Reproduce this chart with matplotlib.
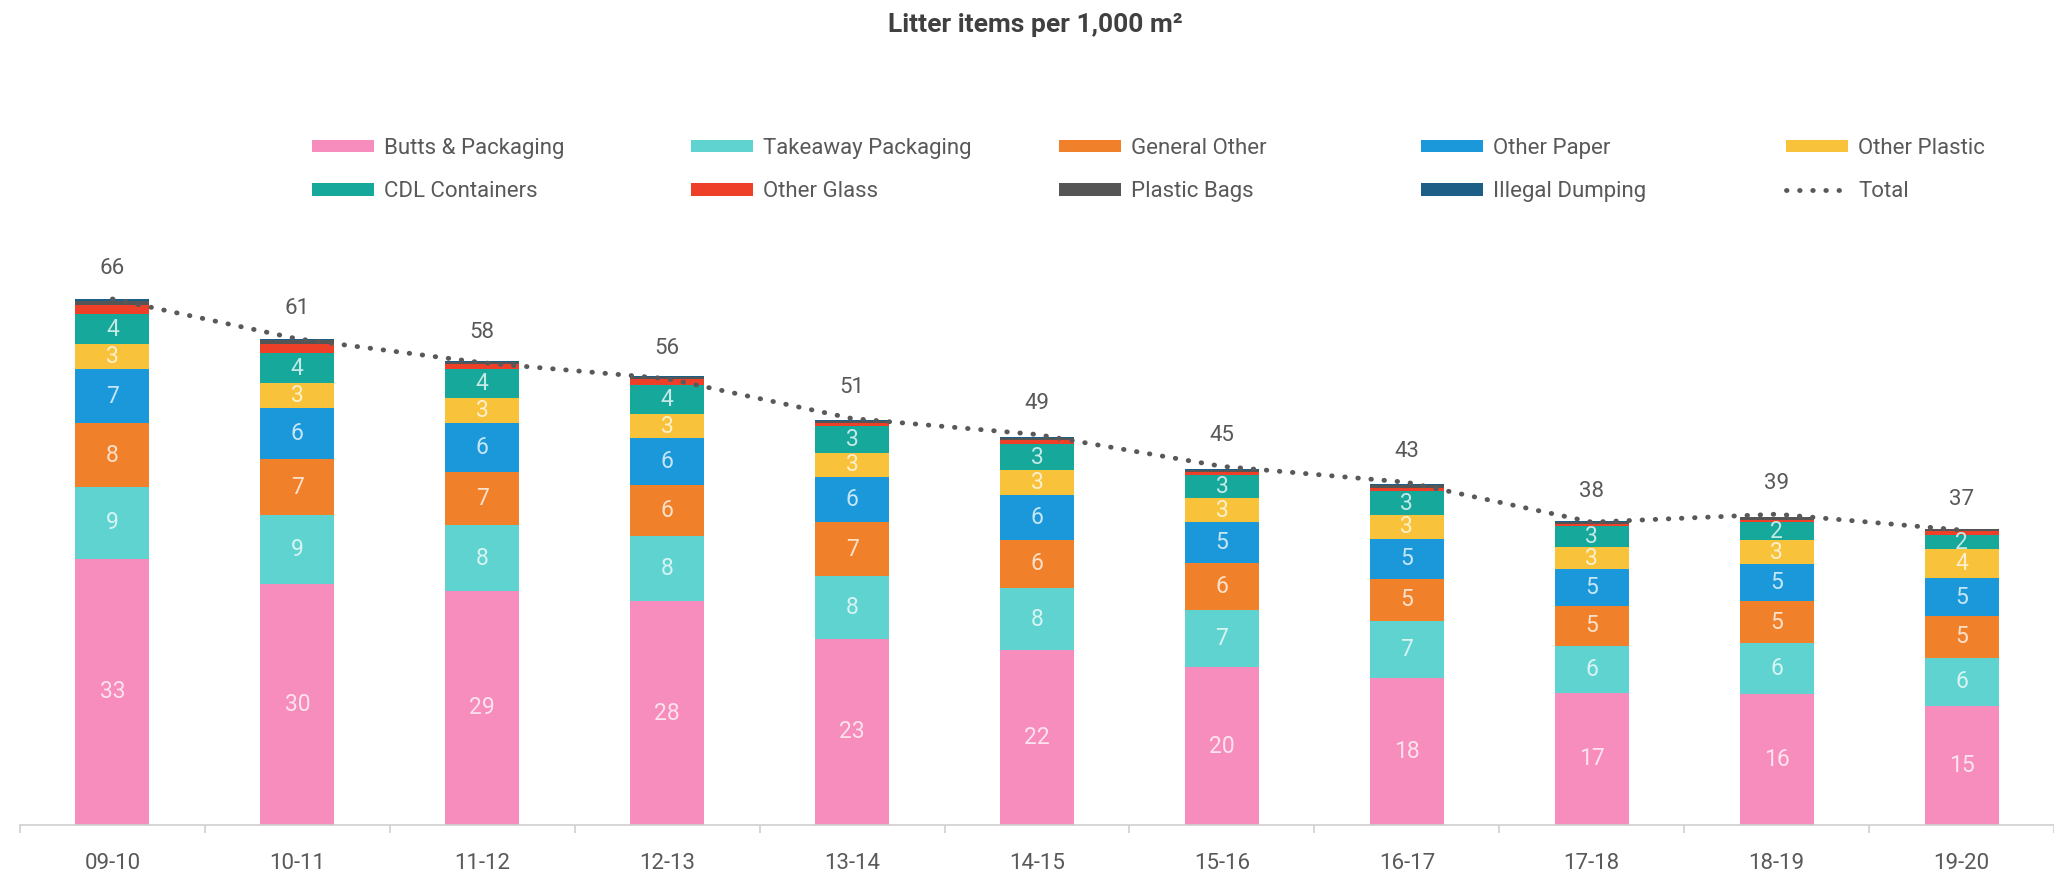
import numpy as np
import matplotlib
matplotlib.use('Agg')
import matplotlib.pyplot as plt
from matplotlib.patches import Patch
from matplotlib.lines import Line2D
from matplotlib.colors import to_rgb

plt.rcParams['font.family'] = ['Roboto', 'DejaVu Sans']

years = ['09-10', '10-11', '11-12', '12-13', '13-14', '14-15',
         '15-16', '16-17', '17-18', '18-19', '19-20']

butts    = [33.4, 30.2, 29.4, 28.1, 23.4, 21.9, 19.8, 18.4, 16.6, 16.4, 14.9]
takeaway = [9.0, 8.7, 8.2, 8.2, 7.8, 7.8, 7.2, 7.2, 5.9, 6.4, 6.1]
general  = [8.0, 7.0, 6.7, 6.3, 6.8, 6.1, 5.9, 5.3, 5.0, 5.3, 5.2]
paper    = [6.8, 6.4, 6.1, 5.9, 5.7, 5.6, 5.1, 5.0, 4.6, 4.6, 4.8]
plastic  = [3.1, 3.1, 3.2, 3.1, 3.0, 3.1, 3.0, 3.0, 2.8, 3.0, 3.6]
cdl      = [3.8, 3.8, 3.6, 3.6, 3.3, 3.3, 2.9, 3.0, 2.6, 2.3, 1.8]
glass    = [1.2, 1.2, 0.6, 0.7, 0.4, 0.5, 0.4, 0.4, 0.3, 0.3, 0.5]
bags     = [0.5, 0.5, 0.3, 0.3, 0.3, 0.3, 0.3, 0.4, 0.2, 0.3, 0.2]
dumping  = [0.2, 0.1, 0.1, 0.1, 0.1, 0.1, 0.1, 0.1, 0.1, 0.1, 0.1]
totals   = [66, 61, 58, 56, 51, 49, 45, 43, 38, 39, 37]

series = [
    ('Butts & Packaging', butts, '#F78DBC', True),
    ('Takeaway Packaging', takeaway, '#5FD3D0', True),
    ('General Other', general, '#F0812A', True),
    ('Other Paper', paper, '#1A98DA', True),
    ('Other Plastic', plastic, '#F8C33A', True),
    ('CDL Containers', cdl, '#15A89B', True),
    ('Other Glass', glass, '#EE3F28', False),
    ('Plastic Bags', bags, '#555555', False),
    ('Illegal Dumping', dumping, '#1D5E86', False),
]

W, H = 2054, 877
fig = plt.figure(figsize=(W / 100, H / 100), dpi=100)
ax = fig.add_axes([20 / W, 1 - 825 / H, (W - 20) / W, 625 / H])

x = np.arange(len(years))
bottom = np.zeros(len(years))
handles = {}
for name, vals, col, labelled in series:
    vals = np.array(vals)
    ax.bar(x, vals, width=0.4, bottom=bottom, color=col, label=name)
    handles[name] = Patch(facecolor=col)
    if labelled:
        light = tuple(0.25 * c + 0.75 for c in to_rgb(col))
        for xi, b, v in zip(x, bottom, vals):
            ax.text(xi, b + v / 2, f'{v:.0f}', ha='center', va='center',
                    fontsize=16.5, color=light)
    bottom += vals

ax.plot(x, totals, color='#595959', lw=3.5, linestyle=(0, (0.1, 2.6)),
        dash_capstyle='round', zorder=5)
for xi, t in zip(x, totals):
    ax.annotate(str(t), (xi, t), xytext=(0, 22), textcoords='offset points',
                ha='center', va='center', fontsize=16, color='#595959')
handles['Total'] = Line2D([], [], color='#595959', lw=3.5,
                          linestyle=(0, (0.1, 2.6)), dash_capstyle='round')

ax.set_xlim(-0.5, 10.48)
ax.set_ylim(0, 625 / 7.97)
for s in ['top', 'right', 'left']:
    ax.spines[s].set_visible(False)
ax.spines['bottom'].set_color('#CFCFCF')
ax.spines['bottom'].set_linewidth(1.2)
ax.set_yticks([])
ax.set_xticks(x)
ax.set_xticklabels(years, fontsize=16, color='#595959')
ax.set_xticks(np.arange(-0.5, 10.6, 1), minor=True)
ax.tick_params(axis='x', which='major', length=0, pad=20)
ax.tick_params(axis='x', which='minor', length=6, color='#CFCFCF', width=1.2)

# legend: five equally spaced columns, two rows
cols = [['Butts & Packaging', 'CDL Containers'],
        ['Takeaway Packaging', 'Other Glass'],
        ['General Other', 'Plastic Bags'],
        ['Other Paper', 'Illegal Dumping'],
        ['Other Plastic', 'Total']]
col_x = [312, 691, 1059, 1421, 1786]
for names, cx in zip(cols, col_x):
    leg = fig.legend([handles[n] for n in names], names, loc='upper left',
                     bbox_to_anchor=(cx / W, 1 - 138 / H), frameon=False,
                     borderpad=0, borderaxespad=0, fontsize=16,
                     handlelength=2.8, handleheight=0.5, handletextpad=0.45,
                     labelspacing=1.0)
    for t in leg.get_texts():
        t.set_color('#595959')

fig.text(1035 / W, 1 - 25 / H, 'Litter items per 1,000 m²', ha='center',
         va='center', fontsize=19, fontweight='bold', color='#404040')

fig.savefig('out.png', dpi=100)
